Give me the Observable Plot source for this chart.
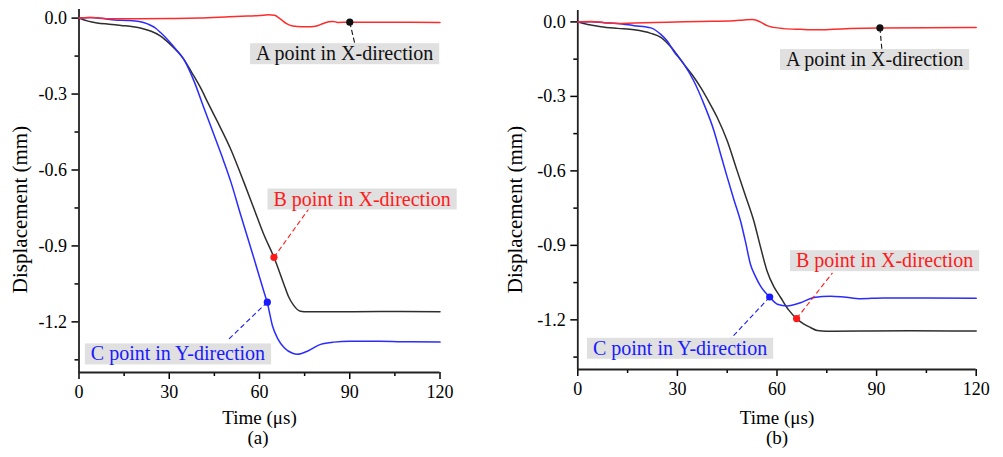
<!DOCTYPE html>
<html><head><meta charset="utf-8">
<script src="https://cdn.jsdelivr.net/npm/d3@7"></script>
<script src="https://cdn.jsdelivr.net/npm/@observablehq/plot@0.6"></script>
<style>
body{margin:0;background:#fff;}
#wrap{position:relative;width:1003px;height:457px;background:#fff;font-family:"Liberation Serif",serif;overflow:hidden;}
#wrap svg, #wrap svg text{font-family:"Liberation Serif",serif !important;}
.panel{position:absolute;top:0;}
.cap{position:absolute;width:100px;text-align:center;font-size:19px;line-height:20px;top:428px;color:#000;}
</style></head><body>
<div id="wrap">
<div id="pa" class="panel" style="left:0"></div>
<div id="pb" class="panel" style="left:500px"></div>
<div class="cap" style="left:208px">(a)</div>
<div class="cap" style="left:727px">(b)</div>
</div>
<script>
// ---- tick values ----
const xMajor = [0, 30, 60, 90, 120];
const xMinor = [15, 45, 75, 105];
const yMajor = [0, -0.3, -0.6, -0.9, -1.2];
const yMinor = [-0.15, -0.45, -0.75, -1.05, -1.35];
const xLabel = "Time (μs)";
const yLabel = "Displacement (mm)";

// ---- annotation labels ----
const labels = ["A point in X-direction", "B point in X-direction", "C point in Y-direction"];
const labelColors = ["#111111", "#ff1a1a", "#1a1aff"];

// ---- panel (a) series ----
const aRed_t = [0, 3, 6, 10, 20, 30, 40, 50, 56, 60, 63, 65, 67, 69, 71, 74, 77, 79, 81, 83, 84.5, 86, 90, 100, 110, 120];
const aRed_v = [0, 0.002, 0.001, -0.003, -0.003, -0.002, 0.000, 0.005, 0.008, 0.010, 0.013, 0.011, -0.004, -0.022, -0.031, -0.034, -0.034, -0.031, -0.022, -0.014, -0.013, -0.017, -0.016, -0.016, -0.016, -0.017];
const aBlk_t = [0, 3, 6, 10, 14, 18, 21, 24, 27, 30, 34.8, 37.5, 40.4, 43, 45.9, 50.4, 54.8, 58.1, 61.4, 64.8, 68.1, 69.6, 71.3, 73.6, 76, 85, 100, 120];
const aBlk_v = [0, -0.012, -0.019, -0.024, -0.029, -0.034, -0.041, -0.052, -0.070, -0.100, -0.162, -0.215, -0.275, -0.338, -0.406, -0.517, -0.648, -0.751, -0.854, -0.945, -1.051, -1.099, -1.134, -1.158, -1.160, -1.160, -1.159, -1.160];
const aBlu_t = [0, 4, 8, 12, 16, 20, 23, 25.5, 27.1, 30, 32, 34.8, 38.2, 41.5, 44.8, 48.1, 50.4, 53.7, 58.1, 61.4, 62.6, 64.3, 66.0, 68.3, 71.0, 72.6, 75.9, 80.3, 84.7, 90, 100, 110, 120];
const aBlu_v = [0, 0.002, -0.002, -0.007, -0.009, -0.013, -0.024, -0.040, -0.057, -0.092, -0.120, -0.162, -0.248, -0.354, -0.459, -0.565, -0.644, -0.776, -0.947, -1.078, -1.125, -1.215, -1.265, -1.303, -1.324, -1.328, -1.316, -1.289, -1.280, -1.277, -1.277, -1.279, -1.280];
// panel (a) annotations: point on curve, label centre, leader end
const aPt_t = [90, 64.8, 62.6];
const aPt_v = [-0.016, -0.945, -1.122];
const aBox_t = [88.3, 94.1, 32.9];
const aBox_v = [-0.141, -0.715, -1.327];
const aLead_t = [91.7, 76.3, 49.7];
const aLead_v = [-0.102, -0.755, -1.269];

// ---- panel (b) series ----
const bRed_t = [0, 4, 8, 12, 17, 27, 37, 47, 50, 52.5, 54, 55.5, 57, 59, 62, 67, 72, 77, 82, 91, 105, 120];
const bRed_v = [0, 0.002, -0.003, -0.006, -0.004, -0.001, 0.002, 0.005, 0.008, 0.010, 0.006, -0.004, -0.015, -0.022, -0.027, -0.030, -0.032, -0.030, -0.027, -0.024, -0.023, -0.022];
const bBlk_t = [0, 3, 7, 12, 17, 22, 25, 28, 31.9, 34.5, 37, 39.5, 42, 45, 48, 50.5, 53, 55, 57, 59, 61.1, 63.5, 65.9, 68, 70.1, 72.1, 75, 85, 100, 120];
const bBlk_v = [0, -0.010, -0.019, -0.026, -0.032, -0.046, -0.062, -0.100, -0.169, -0.214, -0.264, -0.322, -0.385, -0.479, -0.600, -0.700, -0.801, -0.905, -1.003, -1.065, -1.110, -1.160, -1.195, -1.216, -1.231, -1.243, -1.246, -1.245, -1.244, -1.245];
const bBlu_t = [0, 4, 8, 12, 17, 22, 25, 27, 29, 31.9, 34.9, 38, 41, 43, 45, 47, 49, 50.5, 52, 53.5, 55, 56.5, 57.8, 60.1, 63.1, 67.1, 71.1, 76.1, 80, 85.2, 92, 105, 120];
const bBlu_v = [0, 0.001, -0.003, -0.006, -0.015, -0.024, -0.050, -0.078, -0.120, -0.169, -0.237, -0.331, -0.438, -0.532, -0.625, -0.715, -0.801, -0.885, -0.976, -1.025, -1.063, -1.090, -1.108, -1.137, -1.144, -1.131, -1.110, -1.105, -1.108, -1.115, -1.112, -1.112, -1.113];
const bPt_t = [91, 65.9, 57.8];
const bPt_v = [-0.024, -1.195, -1.108];
const bBox_t = [89.4, 92.4, 30.8];
const bBox_v = [-0.152, -0.962, -1.315];
const bLead_t = [91.6, 76.7, 46.0];
const bLead_v = [-0.112, -1.011, -1.277];

const FONT = "Liberation Serif, serif";
const seriesColors = {red: "#ff2b2b", black: "#2e2e2e", blue: "#2b2bff"};

function toRows(t, v) { return t.map((d, i) => ({t: d, v: v[i]})); }

function panel(o) {
  const ann = labels.map((l, i) => ({label: l, color: labelColors[i],
    px: o.pt_t[i], py: o.pt_v[i], bx: o.box_t[i], by: o.box_v[i], lx: o.lead_t[i], ly: o.lead_v[i]}));
  const annMarks = [];
  ann.forEach(a => {
    annMarks.push(Plot.link([a], {x1: "px", y1: "py", x2: "lx", y2: "ly", stroke: a.color, strokeWidth: 1.1, strokeDasharray: "5,3"}));
  });
  ann.forEach(a => {
    annMarks.push(Plot.dot([a], {x: "px", y: "py", r: 3.6, fill: a.color, stroke: "none"}));
  });
  ann.forEach(a => {
    annMarks.push(Plot.text([a], {x: "bx", y: "by", text: "label", fill: a.color, fontSize: 20, textAnchor: "middle", lineAnchor: "middle"}));
  });
  return Plot.plot({
    width: o.width, height: 430,
    marginLeft: o.ml, marginRight: o.mr, marginTop: o.mt, marginBottom: o.mb,
    x: {domain: [0, 120]},
    y: {domain: [-1.4, o.ytop]},
    style: {fontFamily: FONT, fontSize: "18px", color: "#000", background: "transparent", overflow: "visible"},
    marks: [
      Plot.axisY({ticks: yMajor, tickSize: 7, tickPadding: 5, tickFormat: d => d.toFixed(1), label: null, strokeWidth: 1.5, fontSize: 18}),
      Plot.axisY({ticks: yMinor, tickSize: 4, tickFormat: () => "", label: null, strokeWidth: 1.5}),
      Plot.axisX({ticks: xMajor, tickSize: 7, tickPadding: 6, tickFormat: d => String(d), label: null, strokeWidth: 1.5, fontSize: 18}),
      Plot.axisX({ticks: xMinor, tickSize: 4, tickFormat: () => "", label: null, strokeWidth: 1.5}),
      Plot.ruleX([0], {stroke: "#222", strokeWidth: 1.8}),
      Plot.ruleY([-1.4], {stroke: "#222", strokeWidth: 1.8}),
      Plot.text([yLabel], {frameAnchor: "left", textAnchor: "middle", lineAnchor: "middle", rotate: -90, dx: o.ylabDx, dy: o.ylabDy, fontSize: 21, fill: "#000"}),
      Plot.text([xLabel], {frameAnchor: "bottom", textAnchor: "middle", lineAnchor: "middle", dy: o.xlabDy, fontSize: 19, fill: "#000"}),
      Plot.line(toRows(o.blk_t, o.blk_v), {x: "t", y: "v", stroke: seriesColors.black, strokeWidth: 1.5, curve: "monotone-x"}),
      Plot.line(toRows(o.blu_t, o.blu_v), {x: "t", y: "v", stroke: seriesColors.blue, strokeWidth: 1.5, curve: "monotone-x"}),
      Plot.line(toRows(o.red_t, o.red_v), {x: "t", y: "v", stroke: seriesColors.red, strokeWidth: 1.5, curve: "monotone-x"}),
      ...annMarks
    ]
  });
}

function addBoxes(svg) {
  svg.querySelectorAll("text").forEach(t => {
    if (!/direction/.test(t.textContent)) return;
    const b = t.getBBox();
    const r = document.createElementNS("http://www.w3.org/2000/svg", "rect");
    r.setAttribute("x", b.x - 6);
    r.setAttribute("y", b.y + 1);
    r.setAttribute("width", b.width + 12);
    r.setAttribute("height", b.height - 2);
    r.setAttribute("fill", "#e0e0e0");
    r.setAttribute("stroke", "none");
    const tr = t.getAttribute("transform");
    if (tr) r.setAttribute("transform", tr);
    t.parentNode.insertBefore(r, t);
  });
}

const svgA = panel({width: 500, ml: 78.5, mr: 60.5, mt: 9, mb: 58, ytop: 0.034,
  ylabDx: -58.5, ylabDy: 18.5, xlabDy: 45,
  red_t: aRed_t, red_v: aRed_v, blk_t: aBlk_t, blk_v: aBlk_v, blu_t: aBlu_t, blu_v: aBlu_v,
  pt_t: aPt_t, pt_v: aPt_v, box_t: aBox_t, box_v: aBox_v, lead_t: aLead_t, lead_v: aLead_v});
const svgB = panel({width: 503, ml: 77.3, mr: 27.3, mt: 10, mb: 61, ytop: 0.046,
  ylabDx: -62.3, ylabDy: 19.5, xlabDy: 48,
  red_t: bRed_t, red_v: bRed_v, blk_t: bBlk_t, blk_v: bBlk_v, blu_t: bBlu_t, blu_v: bBlu_v,
  pt_t: bPt_t, pt_v: bPt_v, box_t: bBox_t, box_v: bBox_v, lead_t: bLead_t, lead_v: bLead_v});
document.getElementById("pa").appendChild(svgA);
document.getElementById("pb").appendChild(svgB);
addBoxes(svgA);
addBoxes(svgB);
</script>
</body></html>
